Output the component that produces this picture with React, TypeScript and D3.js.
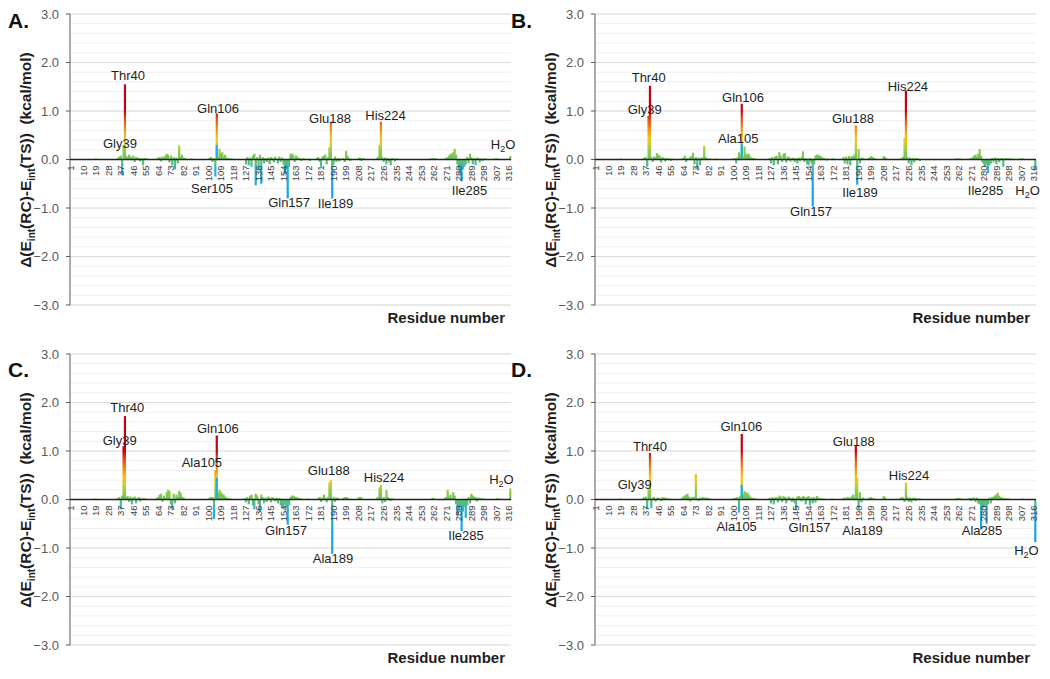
import React, { useEffect, useRef } from 'react'
import * as d3 from 'd3'

type Pt = [number, number]
type Note = [string, number, number]

// categories: residues 1..316, 317 is the water molecule
const residueIds = d3.range(1, 318)
const xTickLabels = [1, 10, 19, 28, 37, 46, 55, 64, 73, 82, 91, 100, 109, 118, 127, 136, 145, 154, 163, 172, 181, 190, 199, 208, 217, 226, 235, 244, 253, 262, 271, 280, 289, 298, 307, 316]
const yMajorTicks = [-3, -2, -1, 0, 1, 2, 3]

const panelA: Pt[] = [
  [19, 0.02],
  [35, 0.03], [36, 0.06], [37, 0.08], [38, -0.32], [39, 0.3], [40, 1.55], [41, 0.08], [42, 0.05], [43, 0.1], [44, 0.06], [45, 0.04], [46, 0.08], [47, -0.05], [48, 0.05], [49, 0.04], [50, 0.03], [51, -0.04], [52, 0.03], [53, -0.12], [54, 0.03], [55, 0.02], [56, 0.02], [57, 0.01],
  [63, 0.02], [64, 0.04], [65, 0.05], [66, -0.04], [67, 0.06], [68, 0.02], [69, 0.08], [70, 0.12], [71, 0.1], [72, -0.06], [73, 0.08], [74, -0.12], [75, 0.05], [76, -0.2], [77, 0.04], [78, -0.08], [79, 0.29], [80, 0.06], [81, 0.1], [82, 0.04], [83, 0.03], [84, 0.02],
  [88, 0.02],
  [100, 0.02], [101, 0.04], [102, 0.05], [103, -0.05], [104, 0.03], [105, -0.35], [106, 0.95], [107, 0.05], [108, 0.22], [109, 0.12], [110, 0.15], [111, 0.06], [112, 0.1], [113, 0.04], [114, 0.03], [115, 0.02], [116, 0.02], [117, 0.02],
  [127, -0.1], [128, 0.05], [129, -0.12], [130, 0.04], [131, -0.15], [132, 0.08], [133, 0.12], [134, -0.53], [135, 0.05], [136, -0.2], [137, 0.1], [138, -0.5], [139, 0.05], [140, -0.08], [141, 0.03], [142, -0.05], [143, 0.04], [144, -0.1], [145, 0.05], [146, 0.03], [147, -0.06], [148, 0.06], [149, 0.02], [150, -0.08], [151, 0.06], [152, -0.05], [153, 0.04], [154, -0.1], [155, -0.3], [156, -0.2], [157, -0.8], [158, -0.15], [159, 0.12], [160, 0.12], [161, 0.1], [162, -0.05], [163, 0.08], [164, 0.05], [165, 0.03], [166, 0.02], [167, -0.03], [168, 0.02], [169, 0.02],
  [172, 0.02], [173, -0.03],
  [178, 0.03], [179, 0.05], [180, -0.05], [181, -0.15], [182, 0.06], [183, 0.08], [184, 0.1], [185, -0.1], [186, 0.05], [187, 0.25], [188, 0.78], [189, -0.8], [190, -0.1], [191, 0.06], [192, -0.05], [193, 0.03], [194, -0.04], [195, 0.02],
  [197, 0.03], [198, -0.05], [199, 0.18], [200, 0.08], [201, 0.03], [202, -0.03],
  [208, 0.03], [209, 0.04], [210, -0.03], [211, 0.03], [212, 0.02],
  [221, 0.03], [222, 0.05], [223, 0.3], [224, 0.78], [225, 0.05], [226, -0.05], [227, 0.04], [228, -0.1], [229, 0.03], [230, -0.05], [231, -0.12], [232, 0.03], [233, 0.02], [234, -0.04], [235, 0.02],
  [259, 0.02], [260, 0.02], [261, 0.02], [262, 0.03], [263, 0.02], [264, 0.02],
  [270, 0.02], [271, 0.03], [272, 0.05], [273, 0.08], [274, 0.12], [275, 0.12], [276, 0.15], [277, 0.22], [278, 0.1], [279, -0.1], [280, -0.2], [281, -0.3], [282, -0.45], [283, -0.2], [284, -0.15], [285, -0.1], [286, 0.05], [287, -0.08], [288, 0.12], [289, 0.05], [290, -0.1], [291, 0.03], [292, -0.12], [293, 0.04], [294, 0.03], [295, -0.06], [296, 0.02], [297, -0.03], [298, 0.02], [299, 0.02], [300, 0.01],
  [306, 0.02], [307, 0.02], [308, 0.02],
  [317, 0.07],
]

const panelB: Pt[] = [
  [19, 0.02],
  [35, 0.02], [36, 0.04], [37, 0.05], [38, -0.15], [39, 0.9], [40, 1.52], [41, 0.05], [42, -0.05], [43, 0.06], [44, 0.04], [45, 0.13], [46, 0.1], [47, 0.08], [48, -0.06], [49, 0.05], [50, 0.03], [51, -0.04], [52, 0.03], [53, 0.02], [54, 0.02], [55, -0.03], [56, 0.02],
  [63, 0.02], [64, 0.03], [65, 0.08], [66, -0.05], [67, 0.03], [68, 0.02], [69, 0.05], [70, 0.08], [71, 0.14], [72, -0.1], [73, 0.05], [74, -0.2], [75, 0.04], [76, -0.12], [77, 0.04], [78, 0.04], [79, 0.28], [80, 0.05], [81, 0.03], [82, 0.02], [83, 0.02],
  [87, 0.02],
  [100, 0.02], [101, 0.03], [102, -0.08], [103, 0.05], [104, 0.15], [105, 0.1], [106, 1.15], [107, 0.05], [108, 0.27], [109, 0.12], [110, 0.1], [111, 0.12], [112, 0.06], [113, 0.04], [114, 0.03], [115, 0.02], [116, 0.02],
  [126, 0.03], [127, -0.08], [128, 0.05], [129, -0.12], [130, 0.06], [131, 0.08], [132, -0.1], [133, 0.15], [134, 0.08], [135, -0.05], [136, 0.12], [137, 0.13], [138, -0.06], [139, 0.06], [140, 0.05], [141, -0.04], [142, 0.03], [143, 0.04], [144, -0.05], [145, 0.03], [146, -0.08], [147, 0.04], [148, -0.03], [149, 0.05], [150, 0.17], [151, -0.05], [152, 0.03], [153, -0.1], [154, -0.12], [155, 0.03], [156, -0.08], [157, -0.97], [158, -0.1], [159, 0.08], [160, 0.1], [161, 0.1], [162, 0.08], [163, 0.06], [164, 0.04], [165, 0.03], [166, 0.02], [167, -0.02], [168, 0.02],
  [171, 0.02], [172, 0.02],
  [179, 0.05], [180, -0.08], [181, 0.06], [182, -0.1], [183, 0.07], [184, -0.12], [185, 0.07], [186, 0.05], [187, 0.1], [188, 0.7], [189, -0.52], [190, 0.22], [191, -0.08], [192, 0.04], [193, 0.03], [194, 0.02],
  [197, 0.03], [198, 0.04], [199, 0.07], [200, 0.05], [201, 0.03], [202, 0.02],
  [208, 0.07], [209, 0.05], [210, 0.02],
  [220, 0.02], [221, 0.03], [222, 0.06], [223, 0.45], [224, 1.42], [225, 0.05], [226, -0.08], [227, 0.04], [228, -0.12], [229, 0.03], [230, -0.06], [231, 0.03], [232, 0.02], [233, 0.02], [234, -0.03],
  [260, 0.02], [261, 0.02], [262, 0.02], [263, 0.02],
  [270, 0.02], [271, 0.03], [272, 0.05], [273, 0.08], [274, 0.1], [275, 0.06], [276, 0.12], [277, 0.22], [278, 0.08], [279, -0.06], [280, -0.1], [281, -0.15], [282, -0.1], [283, -0.28], [284, -0.12], [285, -0.08], [286, 0.03], [287, -0.06], [288, 0.04], [289, -0.1], [290, 0.03], [291, -0.06], [292, 0.02], [293, 0.03], [294, -0.15], [295, 0.02], [296, 0.03], [297, 0.02], [298, 0.02], [299, 0.02], [300, 0.02],
  [306, 0.02], [307, 0.02], [308, 0.02],
  [317, -0.22],
]

const panelC: Pt[] = [
  [19, 0.02],
  [35, 0.03], [36, 0.05], [37, -0.2], [38, 0.08], [39, 1.1], [40, 1.72], [41, 0.05], [42, 0.07], [43, -0.05], [44, 0.06], [45, -0.1], [46, 0.04], [47, 0.06], [48, -0.08], [49, 0.03], [50, 0.05], [51, -0.04], [52, 0.03], [53, 0.02], [54, 0.02], [55, 0.02],
  [63, 0.03], [64, 0.05], [65, 0.1], [66, 0.12], [67, -0.05], [68, 0.08], [69, 0.03], [70, 0.15], [71, 0.2], [72, 0.18], [73, -0.1], [74, -0.2], [75, 0.12], [76, -0.08], [77, 0.1], [78, 0.05], [79, 0.18], [80, 0.14], [81, 0.06], [82, 0.04], [83, 0.02],
  [100, 0.02], [101, 0.04], [102, 0.05], [103, 0.05], [104, -0.4], [105, 0.6], [106, 1.32], [107, 0.15], [108, 0.2], [109, 0.15], [110, 0.12], [111, 0.1], [112, 0.06], [113, 0.04], [114, 0.03], [115, 0.02], [116, 0.02],
  [126, 0.03], [127, -0.06], [128, 0.05], [129, -0.1], [130, 0.08], [131, 0.1], [132, -0.12], [133, -0.2], [134, 0.12], [135, 0.08], [136, -0.1], [137, -0.25], [138, 0.1], [139, 0.05], [140, -0.08], [141, 0.04], [142, -0.05], [143, 0.06], [144, 0.04], [145, -0.06], [146, 0.05], [147, 0.03], [148, -0.04], [149, 0.04], [150, -0.08], [151, 0.03], [152, -0.12], [153, -0.15], [154, -0.18], [155, -0.1], [156, -0.15], [157, -0.52], [158, -0.12], [159, 0.05], [160, 0.08], [161, 0.08], [162, 0.06], [163, 0.05], [164, 0.04], [165, 0.03], [166, 0.02], [167, 0.02],
  [172, 0.02],
  [179, 0.03], [180, 0.05], [181, -0.05], [182, 0.04], [183, 0.1], [184, 0.04], [185, -0.06], [186, 0.05], [187, 0.35], [188, 0.4], [189, -1.12], [190, 0.05], [191, -0.05], [192, 0.04], [193, 0.03], [194, 0.02],
  [197, 0.03], [198, 0.05], [199, 0.05], [200, 0.03], [201, 0.02],
  [208, 0.04], [209, 0.05], [210, 0.04],
  [221, 0.03], [222, 0.05], [223, 0.25], [224, 0.3], [225, -0.08], [226, 0.05], [227, -0.05], [228, 0.2], [229, 0.05], [230, 0.03], [231, -0.03], [232, 0.02], [233, 0.02],
  [261, 0.03], [262, 0.03],
  [270, 0.03], [271, 0.05], [272, 0.2], [273, 0.06], [274, 0.1], [275, 0.04], [276, 0.15], [277, 0.08], [278, -0.1], [279, -0.33], [280, -0.2], [281, -0.15], [282, -0.65], [283, -0.25], [284, -0.15], [285, -0.38], [286, -0.12], [287, 0.05], [288, -0.08], [289, 0.12], [290, 0.08], [291, 0.06], [292, 0.05], [293, -0.04], [294, 0.04], [295, 0.03], [296, 0.02], [297, 0.02], [298, 0.02],
  [307, 0.02], [308, 0.02], [309, 0.02],
  [317, 0.23],
]

const panelD: Pt[] = [
  [19, 0.02],
  [35, 0.03], [36, 0.05], [37, 0.06], [38, -0.2], [39, 0.2], [40, 0.96], [41, -0.18], [42, 0.04], [43, 0.05], [44, -0.04], [45, 0.03], [46, 0.04], [47, 0.02], [48, -0.03], [49, 0.05], [50, 0.03], [51, 0.04], [52, 0.02], [53, 0.02], [54, 0.02],
  [63, 0.03], [64, 0.06], [65, 0.08], [66, 0.1], [67, 0.12], [68, 0.06], [69, -0.04], [70, 0.05], [71, 0.04], [72, 0.05], [73, 0.52], [74, 0.03], [75, -0.03], [76, 0.04], [77, 0.03], [78, 0.05], [79, 0.04], [80, 0.03], [81, 0.04], [82, 0.02], [83, 0.02],
  [100, 0.02], [101, 0.03], [102, 0.04], [103, 0.05], [104, -0.27], [105, 0.08], [106, 1.35], [107, 0.12], [108, 0.17], [109, 0.15], [110, 0.14], [111, 0.1], [112, 0.06], [113, 0.04], [114, 0.03], [115, 0.02], [116, 0.02],
  [126, 0.03], [127, -0.08], [128, 0.05], [129, -0.1], [130, 0.04], [131, 0.05], [132, -0.06], [133, 0.08], [134, 0.06], [135, -0.05], [136, 0.07], [137, 0.05], [138, -0.08], [139, 0.04], [140, 0.06], [141, 0.03], [142, -0.05], [143, 0.04], [144, -0.08], [145, -0.22], [146, 0.06], [147, 0.07], [148, 0.05], [149, -0.04], [150, 0.07], [151, 0.06], [152, -0.1], [153, 0.05], [154, 0.07], [155, -0.12], [156, 0.04], [157, -0.08], [158, 0.05], [159, -0.06], [160, 0.07], [161, 0.04], [162, 0.03], [163, 0.02], [164, 0.02], [165, 0.02],
  [171, 0.02],
  [179, 0.03], [180, 0.04], [181, 0.02], [182, 0.05], [183, 0.03], [184, 0.04], [185, 0.06], [186, 0.1], [187, 0.05], [188, 1.1], [189, 0.45], [190, -0.2], [191, 0.15], [192, -0.06], [193, 0.04], [194, 0.02],
  [197, 0.03], [198, 0.04], [199, 0.05], [200, 0.03], [201, 0.02],
  [208, 0.07], [209, 0.04],
  [220, 0.03], [221, 0.05], [222, 0.04], [223, -0.05], [224, 0.35], [225, 0.06], [226, -0.05], [227, 0.04], [228, -0.06], [229, 0.03], [230, 0.04], [231, -0.03], [232, 0.02], [233, 0.02], [234, 0.02],
  [260, 0.02], [261, 0.03], [262, 0.03], [263, 0.02], [264, 0.02],
  [269, 0.02], [270, 0.03], [271, -0.03], [272, 0.04], [273, 0.03], [274, -0.05], [275, 0.04], [276, -0.08], [277, -0.1], [278, -0.62], [279, -0.2], [280, -0.15], [281, -0.12], [282, -0.5], [283, -0.1], [284, 0.04], [285, -0.08], [286, 0.05], [287, 0.06], [288, 0.08], [289, 0.1], [290, 0.14], [291, 0.08], [292, 0.05], [293, 0.04], [294, 0.03], [295, 0.03], [296, 0.02], [297, 0.02], [298, 0.02],
  [308, 0.02],
  [317, -0.88],
]

// the lower part of the Gln106 bar is drawn in blue in every panel
const gln106Blue = [0.3, 0.33, 0.45, 0.3]

// [text, residue position, value where the baseline sits]
const notesA: Note[] = [['Thr40', 42.2, 1.63], ['Gly39', 36.4, 0.23], ['Gln106', 106.9, 0.95], ['Ser105', 102.6, -0.7], ['Glu188', 187.4, 0.76], ['His224', 227.3, 0.82], ['Gln157', 158, -0.97], ['Ile189', 191.4, -0.99], ['Ile285', 287.7, -0.74], ['H2O', 311.8, 0.21]]
const notesB: Note[] = [['Thr40', 39.1, 1.59], ['Gly39', 36.2, 0.94], ['Gln106', 106.9, 1.19], ['Ala105', 103.5, 0.34], ['Glu188', 186, 0.75], ['His224', 225.4, 1.42], ['Gln157', 155.8, -1.17], ['Ile189', 191, -0.78], ['Ile285', 281.2, -0.73], ['H2O', 311.4, -0.73]]
const notesC: Note[] = [['Thr40', 41.7, 1.8], ['Gly39', 36.2, 1.13], ['Gln106', 106.8, 1.37], ['Ala105', 95.3, 0.68], ['Glu188', 186.5, 0.51], ['His224', 226.2, 0.36], ['H2O', 310.6, 0.31], ['Gln157', 155.8, -0.74], ['Ala189', 189.6, -1.3], ['Ile285', 285.2, -0.83]]
const notesD: Note[] = [['Gln106', 105.7, 1.41], ['Thr40', 40, 1.01], ['Gly39', 29, 0.21], ['Glu188', 186.5, 1.11], ['His224', 226.2, 0.41], ['Ala105', 102.3, -0.65], ['Gln157', 154.7, -0.67], ['Ala189', 192.8, -0.73], ['Ala285', 278.7, -0.73], ['H2O', 310.6, -1.14]]

// value -> colour stops of the bar gradient
const colorStops: [number, string][] = [
  [-0.6, '#12a6ee'], [-0.28, '#1cb0ec'], [-0.12, '#3fb9a8'], [0, '#6ec35e'], [0.15, '#8ccb46'],
  [0.3, '#c4cf30'], [0.45, '#fcc010'], [0.62, '#f39018'], [0.82, '#e4501a'], [1.0, '#c40012'],
]

const panels = [
  { key: 'A', data: panelA, notes: notesA, blue: gln106Blue[0], dx: 0, dy: 0, labelY: 28 },
  { key: 'B', data: panelB, notes: notesB, blue: gln106Blue[1], dx: 525, dy: 0, labelY: 28 },
  { key: 'C', data: panelC, notes: notesC, blue: gln106Blue[2], dx: 0, dy: 340, labelY: 37 },
  { key: 'D', data: panelD, notes: notesD, blue: gln106Blue[3], dx: 525, dy: 340, labelY: 37 },
]

const FONT = "'Liberation Sans', Arial, sans-serif"
const W = 1050
const H = 679
const BAR_W = 2.2

export default function App() {
  const svgRef = useRef<SVGSVGElement>(null)

  useEffect(() => {
    if (!svgRef.current) return
    const svg = d3.select(svgRef.current)
    svg.selectAll('*').remove()

    svg.append('rect').attr('width', W).attr('height', H).attr('fill', '#fff')

    const x0 = 70, x1 = 511, yTop = 14, yBot = 305

    const x = d3.scaleBand<number>().domain(residueIds).range([x0, x1]).padding(0)
    const y = d3.scaleLinear().domain([-3, 3]).range([yBot, yTop])
    const bw = x.bandwidth()
    const cx = (r: number) => (x(r) ?? 0) + bw / 2

    const defs = svg.append('defs')
    const lo = colorStops[0][0], hi = colorStops[colorStops.length - 1][0]
    const grad = defs.append('linearGradient')
      .attr('id', 'bar-grad')
      .attr('gradientUnits', 'userSpaceOnUse')
      .attr('x1', 0).attr('x2', 0)
      .attr('y1', y(lo)).attr('y2', y(hi))
    colorStops.forEach(([v, c]) => {
      grad.append('stop').attr('offset', (v - lo) / (hi - lo)).attr('stop-color', c)
    })

    panels.forEach((p) => {
      const g = svg.append('g').attr('transform', `translate(${p.dx},${p.dy})`)

      // minor grid
      g.selectAll('line.minor')
        .data(y.ticks(30))
        .join('line')
        .attr('x1', x0).attr('x2', x1)
        .attr('y1', (d) => y(d)).attr('y2', (d) => y(d))
        .attr('stroke', '#efefef').attr('stroke-width', 1)

      // major grid
      g.selectAll('line.major')
        .data(yMajorTicks)
        .join('line')
        .attr('x1', x0).attr('x2', x1)
        .attr('y1', (d) => y(d)).attr('y2', (d) => y(d))
        .attr('stroke', '#dcdcdc').attr('stroke-width', 1)

      // bars
      g.append('g').selectAll('rect')
        .data(p.data)
        .join('rect')
        .attr('x', (d) => cx(d[0]) - BAR_W / 2)
        .attr('width', BAR_W)
        .attr('y', (d) => y(Math.max(0, d[1])))
        .attr('height', (d) => Math.abs(y(d[1]) - y(0)))
        .attr('fill', 'url(#bar-grad)')

      // blue base of Gln106
      g.append('rect')
        .attr('x', cx(106) - BAR_W / 2)
        .attr('width', BAR_W)
        .attr('y', y(p.blue))
        .attr('height', y(0.03) - y(p.blue))
        .attr('fill', '#1cb0ec')

      // y axis
      g.append('line')
        .attr('x1', x0).attr('x2', x0).attr('y1', yTop).attr('y2', yBot)
        .attr('stroke', '#595959').attr('stroke-width', 1)
      g.selectAll('line.ytick')
        .data(yMajorTicks)
        .join('line')
        .attr('x1', x0 - 4).attr('x2', x0)
        .attr('y1', (d) => y(d)).attr('y2', (d) => y(d))
        .attr('stroke', '#595959')
      g.selectAll('text.ylab')
        .data(yMajorTicks)
        .join('text')
        .attr('x', x0 - 11)
        .attr('y', (d) => y(d) + 4.5)
        .attr('text-anchor', 'end')
        .attr('font-family', FONT)
        .attr('font-size', 13)
        .attr('fill', '#595959')
        .text((d) => d3.format('.1f')(d))

      // zero line
      g.append('line')
        .attr('x1', x0).attr('x2', x1).attr('y1', y(0)).attr('y2', y(0))
        .attr('stroke', '#222').attr('stroke-width', 1.4)

      // x tick labels
      g.selectAll('text.xlab')
        .data(xTickLabels)
        .join('text')
        .attr('transform', (d) => `translate(${cx(d) + 3.3},${y(0) + 6}) rotate(-90)`)
        .attr('text-anchor', 'end')
        .attr('font-family', FONT)
        .attr('font-size', 9.5)
        .attr('fill', '#404040')
        .text((d) => String(d))

      // annotations
      p.notes.forEach(([t, r, v]) => {
        const txt = g.append('text')
          .attr('x', x0 + (r - 0.5) * bw).attr('y', y(v))
          .attr('text-anchor', 'middle')
          .attr('font-family', FONT)
          .attr('font-size', 13)
          .attr('fill', '#1e1e1e')
        if (t === 'H2O') {
          txt.append('tspan').text('H')
          txt.append('tspan').attr('dy', 3).attr('font-size', 9).text('2')
          txt.append('tspan').attr('dy', -3).text('O')
        } else {
          txt.text(t)
        }
      })

      // y title
      const yt = g.append('text')
        .attr('transform', `translate(31,160) rotate(-90)`)
        .attr('text-anchor', 'middle')
        .attr('font-family', FONT)
        .attr('font-size', 15.5)
        .attr('font-weight', 'bold')
        .attr('fill', '#1e1e1e')
      yt.append('tspan').text('Δ(E')
      yt.append('tspan').attr('dy', 4).attr('font-size', 10).text('int')
      yt.append('tspan').attr('dy', -4).text('(RC)-E')
      yt.append('tspan').attr('dy', 4).attr('font-size', 10).text('int')
      yt.append('tspan').attr('dy', -4).text('(TS))\u00a0\u00a0(kcal/mol)')

      // x title
      g.append('text')
        .attr('x', 505).attr('y', 323)
        .attr('text-anchor', 'end')
        .attr('font-family', FONT)
        .attr('font-size', 15)
        .attr('font-weight', 'bold')
        .attr('fill', '#1e1e1e')
        .text('Residue number')
    })

    // panel letters drawn last so they sit on top
    panels.forEach((p) => {
      svg.append('text')
        .attr('x', p.dx + (p.dx === 0 ? 8 : -14))
        .attr('y', p.dy + p.labelY)
        .attr('font-family', FONT)
        .attr('font-size', 21)
        .attr('font-weight', 'bold')
        .attr('fill', '#111')
        .text(`${p.key}.`)
    })
  }, [])

  return (
    <svg
      ref={svgRef}
      width={W}
      height={H}
      style={{ position: 'absolute', left: 0, top: 0, background: '#fff' }}
    />
  )
}
